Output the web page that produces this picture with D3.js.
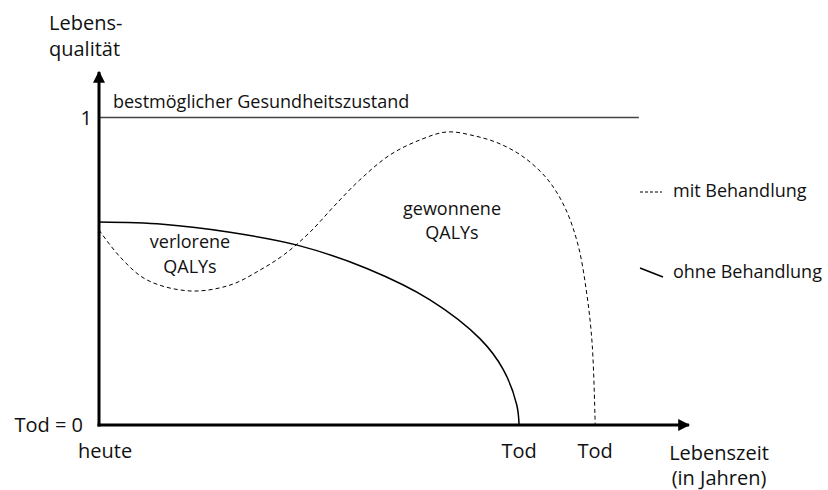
<!DOCTYPE html>
<html>
<head>
<meta charset="utf-8">
<script src="https://cdn.jsdelivr.net/npm/d3@7"></script>
<style>
  body { margin: 0; background: #fff; }
  text { font-family: "Open Sans", sans-serif; font-size: 18px; fill: #111; }
  .big { font-size: 20px; }
</style>
</head>
<body>
<svg id="chart" width="828" height="490"></svg>
<script>
// Lebensqualitaet ueber Lebenszeit, ohne / mit Behandlung
// x = Lebenszeit (beliebige Einheit 0..100), y = Lebensqualitaet 0..1
var ohneX = [0, 10.8, 22.2, 33.6, 45.4, 56.1, 64.6, 68.5, 70.8, 71.2];
var ohneY = [0.66, 0.653, 0.627, 0.585, 0.509, 0.407, 0.28, 0.181, 0.066, 0];

var mitX = [0, 3.6, 8.1, 15.4, 22.2, 27.3, 31.5, 35.8, 40, 44.2, 49.3, 54.4, 59, 63.7, 68, 72.2, 76.1, 79, 81.2, 82.7, 83.6, 84.1];
var mitY = [0.634, 0.546, 0.472, 0.436, 0.455, 0.504, 0.556, 0.628, 0.715, 0.797, 0.878, 0.927, 0.953, 0.94, 0.914, 0.868, 0.797, 0.706, 0.585, 0.423, 0.26, 0];

var bestY = 1;          // bestmoeglicher Gesundheitszustand
var bestEndX = 91.5;
var todOhne = 71.2, todMit = 84.1;

var yTicks = [{v: 0, label: "Tod = 0"}, {v: 1, label: "1"}];
var xTicks = [{v: 0, label: "heute"}, {v: todOhne, label: "Tod"}, {v: todMit, label: "Tod"}];

var svg = d3.select("#chart");

var x = d3.scaleLinear().domain([0, 100]).range([99, 689]);
var y = d3.scaleLinear().domain([0, 1]).range([425, 117.5]);

// pfeilspitzen
var defs = svg.append("defs");
defs.append("marker")
    .attr("id", "arrow")
    .attr("viewBox", "0 0 10 10")
    .attr("refX", 9).attr("refY", 5)
    .attr("markerWidth", 4).attr("markerHeight", 4)
    .attr("orient", "auto")
  .append("path")
    .attr("d", "M0,0 L10,5 L0,10 z")
    .attr("fill", "#000");

// obere linie
svg.append("line")
    .attr("x1", x(0)).attr("x2", x(bestEndX))
    .attr("y1", y(bestY)).attr("y2", y(bestY))
    .attr("stroke", "#444").attr("stroke-width", 1.5);

svg.append("text")
    .attr("x", 113).attr("y", y(bestY) - 10)
    .text("bestmöglicher Gesundheitszustand");

var line = d3.line()
    .x(function(d) { return x(d[0]); })
    .y(function(d) { return y(d[1]); })
    .curve(d3.curveCatmullRom.alpha(0.5));

svg.append("path")
    .datum(d3.zip(ohneX, ohneY))
    .attr("d", line)
    .attr("fill", "none")
    .attr("stroke", "#000")
    .attr("stroke-width", 1.5);

svg.append("path")
    .datum(d3.zip(mitX, mitY))
    .attr("d", line)
    .attr("fill", "none")
    .attr("stroke", "#000")
    .attr("stroke-width", 1)
    .attr("stroke-dasharray", "4,3");

// achsen
svg.append("line")
    .attr("x1", x(0)).attr("y1", y(0) + 1.5)
    .attr("x2", x(0)).attr("y2", 72)
    .attr("stroke", "#000").attr("stroke-width", 3)
    .attr("marker-end", "url(#arrow)");

svg.append("line")
    .attr("x1", x(0) - 1.5).attr("y1", y(0))
    .attr("x2", x(100)).attr("y2", y(0))
    .attr("stroke", "#000").attr("stroke-width", 3)
    .attr("marker-end", "url(#arrow)");

svg.selectAll(".ytick")
    .data(yTicks)
  .enter().append("text")
    .attr("class", "ytick big")
    .attr("x", function(d) { return d.v == 1 ? 92 : 83; })
    .attr("y", function(d) { return y(d.v) + 7; })
    .attr("text-anchor", "end")
    .text(function(d) { return d.label; });

svg.selectAll(".xtick")
    .data(xTicks)
  .enter().append("text")
    .attr("class", "xtick big")
    .attr("x", function(d, i) { return i == 0 ? 78 : x(d.v); })
    .attr("y", 458)
    .attr("text-anchor", function(d, i) { return i == 0 ? "start" : "middle"; })
    .text(function(d) { return d.label; });

// achsentitel
svg.append("text").attr("class", "big").attr("x", 49).attr("y", 30).text("Lebens-");
svg.append("text").attr("class", "big").attr("x", 49).attr("y", 56).text("qualität");
svg.append("text").attr("class", "big").attr("x", 719).attr("y", 460).attr("text-anchor", "middle").text("Lebenszeit");
svg.append("text").attr("class", "big").attr("x", 719).attr("y", 485).attr("text-anchor", "middle").text("(in Jahren)");

// flaechen-beschriftung
svg.append("text").attr("x", 190).attr("y", 248).attr("text-anchor", "middle").text("verlorene");
svg.append("text").attr("x", 190).attr("y", 273).attr("text-anchor", "middle").text("QALYs");
svg.append("text").attr("x", 452).attr("y", 215).attr("text-anchor", "middle").text("gewonnene");
svg.append("text").attr("x", 452).attr("y", 239).attr("text-anchor", "middle").text("QALYs");

// legende
svg.append("line")
    .attr("x1", 640).attr("x2", 662).attr("y1", 192).attr("y2", 192)
    .attr("stroke", "#000").attr("stroke-width", 1)
    .attr("stroke-dasharray", "3,2");
svg.append("text").attr("x", 673).attr("y", 197).text("mit Behandlung");
svg.append("line")
    .attr("x1", 640).attr("x2", 663).attr("y1", 268).attr("y2", 277)
    .attr("stroke", "#000").attr("stroke-width", 1.5);
svg.append("text").attr("x", 673).attr("y", 278).text("ohne Behandlung");
</script>
</body>
</html>
